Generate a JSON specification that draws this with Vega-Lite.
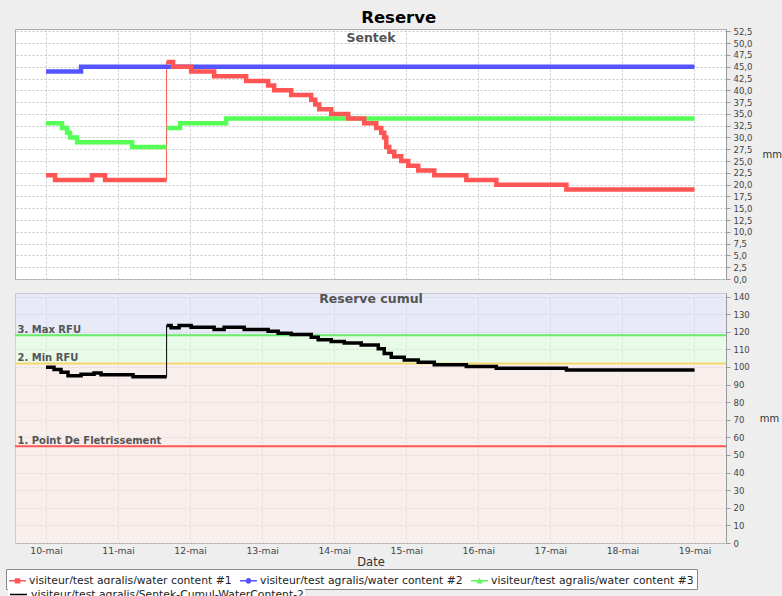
{
  "$schema": "https://vega.github.io/schema/vega-lite/v6.json",
  "background": "#eeeeee",
  "padding": {"left": 5, "top": 10, "right": 5, "bottom": 5},
  "title": {"text": "Reserve", "font": "DejaVu Sans", "fontSize": 16.5, "fontWeight": "bold", "color": "#000000", "anchor": "middle", "offset": 0, "dx": 5},
  "config": {
    "view": {"stroke": "#aaaaaa", "fill": "#ffffff"},
    "axis": {"gridColor": "#c8c8c8", "gridDash": [2, 2], "gridWidth": 1, "domainColor": "#999999", "tickColor": "#999999", "labelFont": "DejaVu Sans", "labelColor": "#444444", "titleFont": "DejaVu Sans", "titleFontWeight": "normal", "titleColor": "#333333"},
    "legend": {"orient": "none", "direction": "horizontal", "title": null, "labelFont": "DejaVu Sans", "labelFontSize": 10.8, "labelColor": "#222222", "symbolSize": 289, "labelOffset": 3, "columnPadding": 8, "rowPadding": 1, "labelLimit": 400}
  },
  "datasets": {
    "sentek": [
      {"t": "2013-05-10T00:00", "v": 33, "s": "visiteur/test agralis/water content #3", "seg": "a"},
      {"t": "2013-05-10T05:20", "v": 32, "s": "visiteur/test agralis/water content #3", "seg": "a"},
      {"t": "2013-05-10T07:00", "v": 31, "s": "visiteur/test agralis/water content #3", "seg": "a"},
      {"t": "2013-05-10T08:00", "v": 30, "s": "visiteur/test agralis/water content #3", "seg": "a"},
      {"t": "2013-05-10T10:20", "v": 29, "s": "visiteur/test agralis/water content #3", "seg": "a"},
      {"t": "2013-05-11T04:40", "v": 28, "s": "visiteur/test agralis/water content #3", "seg": "a"},
      {"t": "2013-05-11T16:10", "v": 28, "s": "visiteur/test agralis/water content #3", "seg": "a"},
      {"t": "2013-05-11T16:10", "v": 32, "s": "visiteur/test agralis/water content #3", "seg": "b"},
      {"t": "2013-05-11T20:40", "v": 33, "s": "visiteur/test agralis/water content #3", "seg": "b"},
      {"t": "2013-05-12T12:00", "v": 34, "s": "visiteur/test agralis/water content #3", "seg": "b"},
      {"t": "2013-05-19T00:00", "v": 34, "s": "visiteur/test agralis/water content #3", "seg": "b"},
      {"t": "2013-05-10T00:00", "v": 44, "s": "visiteur/test agralis/water content #2", "seg": "a"},
      {"t": "2013-05-10T11:40", "v": 45, "s": "visiteur/test agralis/water content #2", "seg": "a"},
      {"t": "2013-05-19T00:00", "v": 45, "s": "visiteur/test agralis/water content #2", "seg": "a"},
      {"t": "2013-05-10T00:00", "v": 22, "s": "visiteur/test agralis/water content #1", "seg": "a"},
      {"t": "2013-05-10T03:00", "v": 21, "s": "visiteur/test agralis/water content #1", "seg": "a"},
      {"t": "2013-05-10T15:20", "v": 22, "s": "visiteur/test agralis/water content #1", "seg": "a"},
      {"t": "2013-05-10T19:40", "v": 21, "s": "visiteur/test agralis/water content #1", "seg": "a"},
      {"t": "2013-05-11T16:10", "v": 21, "s": "visiteur/test agralis/water content #1", "seg": "a"},
      {"t": "2013-05-11T16:10", "v": 46, "s": "visiteur/test agralis/water content #1", "seg": "b"},
      {"t": "2013-05-11T18:20", "v": 45, "s": "visiteur/test agralis/water content #1", "seg": "b"},
      {"t": "2013-05-12T00:20", "v": 44, "s": "visiteur/test agralis/water content #1", "seg": "b"},
      {"t": "2013-05-12T08:00", "v": 43, "s": "visiteur/test agralis/water content #1", "seg": "b"},
      {"t": "2013-05-12T18:40", "v": 42, "s": "visiteur/test agralis/water content #1", "seg": "b"},
      {"t": "2013-05-13T02:00", "v": 41, "s": "visiteur/test agralis/water content #1", "seg": "b"},
      {"t": "2013-05-13T04:00", "v": 40, "s": "visiteur/test agralis/water content #1", "seg": "b"},
      {"t": "2013-05-13T09:40", "v": 39, "s": "visiteur/test agralis/water content #1", "seg": "b"},
      {"t": "2013-05-13T16:20", "v": 38, "s": "visiteur/test agralis/water content #1", "seg": "b"},
      {"t": "2013-05-13T17:40", "v": 37, "s": "visiteur/test agralis/water content #1", "seg": "b"},
      {"t": "2013-05-13T19:00", "v": 36, "s": "visiteur/test agralis/water content #1", "seg": "b"},
      {"t": "2013-05-13T23:00", "v": 35, "s": "visiteur/test agralis/water content #1", "seg": "b"},
      {"t": "2013-05-14T04:40", "v": 34, "s": "visiteur/test agralis/water content #1", "seg": "b"},
      {"t": "2013-05-14T10:00", "v": 33, "s": "visiteur/test agralis/water content #1", "seg": "b"},
      {"t": "2013-05-14T14:00", "v": 32, "s": "visiteur/test agralis/water content #1", "seg": "b"},
      {"t": "2013-05-14T15:40", "v": 31, "s": "visiteur/test agralis/water content #1", "seg": "b"},
      {"t": "2013-05-14T16:40", "v": 30, "s": "visiteur/test agralis/water content #1", "seg": "b"},
      {"t": "2013-05-14T17:20", "v": 28, "s": "visiteur/test agralis/water content #1", "seg": "b"},
      {"t": "2013-05-14T18:20", "v": 27, "s": "visiteur/test agralis/water content #1", "seg": "b"},
      {"t": "2013-05-14T20:00", "v": 26, "s": "visiteur/test agralis/water content #1", "seg": "b"},
      {"t": "2013-05-14T22:20", "v": 25, "s": "visiteur/test agralis/water content #1", "seg": "b"},
      {"t": "2013-05-15T00:40", "v": 24, "s": "visiteur/test agralis/water content #1", "seg": "b"},
      {"t": "2013-05-15T04:00", "v": 23, "s": "visiteur/test agralis/water content #1", "seg": "b"},
      {"t": "2013-05-15T09:20", "v": 22, "s": "visiteur/test agralis/water content #1", "seg": "b"},
      {"t": "2013-05-15T20:00", "v": 21, "s": "visiteur/test agralis/water content #1", "seg": "b"},
      {"t": "2013-05-16T06:00", "v": 20, "s": "visiteur/test agralis/water content #1", "seg": "b"},
      {"t": "2013-05-17T05:20", "v": 19, "s": "visiteur/test agralis/water content #1", "seg": "b"},
      {"t": "2013-05-19T00:00", "v": 19, "s": "visiteur/test agralis/water content #1", "seg": "b"}
    ],
    "cumul": [
      {"t": "2013-05-10T00:00", "v": 99.8, "s": "visiteur/test agralis/Sentek-Cumul-WaterContent-2", "seg": "a"},
      {"t": "2013-05-10T02:40", "v": 98.5, "s": "visiteur/test agralis/Sentek-Cumul-WaterContent-2", "seg": "a"},
      {"t": "2013-05-10T05:00", "v": 97, "s": "visiteur/test agralis/Sentek-Cumul-WaterContent-2", "seg": "a"},
      {"t": "2013-05-10T07:20", "v": 95, "s": "visiteur/test agralis/Sentek-Cumul-WaterContent-2", "seg": "a"},
      {"t": "2013-05-10T11:40", "v": 95.8, "s": "visiteur/test agralis/Sentek-Cumul-WaterContent-2", "seg": "a"},
      {"t": "2013-05-10T16:00", "v": 96.5, "s": "visiteur/test agralis/Sentek-Cumul-WaterContent-2", "seg": "a"},
      {"t": "2013-05-10T18:20", "v": 95.6, "s": "visiteur/test agralis/Sentek-Cumul-WaterContent-2", "seg": "a"},
      {"t": "2013-05-11T05:00", "v": 94.5, "s": "visiteur/test agralis/Sentek-Cumul-WaterContent-2", "seg": "a"},
      {"t": "2013-05-11T16:10", "v": 94.5, "s": "visiteur/test agralis/Sentek-Cumul-WaterContent-2", "seg": "a"},
      {"t": "2013-05-11T16:10", "v": 123.5, "s": "visiteur/test agralis/Sentek-Cumul-WaterContent-2", "seg": "b"},
      {"t": "2013-05-11T17:40", "v": 122.2, "s": "visiteur/test agralis/Sentek-Cumul-WaterContent-2", "seg": "b"},
      {"t": "2013-05-11T20:20", "v": 123.5, "s": "visiteur/test agralis/Sentek-Cumul-WaterContent-2", "seg": "b"},
      {"t": "2013-05-12T00:20", "v": 122.6, "s": "visiteur/test agralis/Sentek-Cumul-WaterContent-2", "seg": "b"},
      {"t": "2013-05-12T08:00", "v": 121.2, "s": "visiteur/test agralis/Sentek-Cumul-WaterContent-2", "seg": "b"},
      {"t": "2013-05-12T11:20", "v": 122.6, "s": "visiteur/test agralis/Sentek-Cumul-WaterContent-2", "seg": "b"},
      {"t": "2013-05-12T18:00", "v": 121.2, "s": "visiteur/test agralis/Sentek-Cumul-WaterContent-2", "seg": "b"},
      {"t": "2013-05-13T02:00", "v": 120.3, "s": "visiteur/test agralis/Sentek-Cumul-WaterContent-2", "seg": "b"},
      {"t": "2013-05-13T05:20", "v": 119.1, "s": "visiteur/test agralis/Sentek-Cumul-WaterContent-2", "seg": "b"},
      {"t": "2013-05-13T09:40", "v": 118.4, "s": "visiteur/test agralis/Sentek-Cumul-WaterContent-2", "seg": "b"},
      {"t": "2013-05-13T16:20", "v": 116.9, "s": "visiteur/test agralis/Sentek-Cumul-WaterContent-2", "seg": "b"},
      {"t": "2013-05-13T18:40", "v": 115.4, "s": "visiteur/test agralis/Sentek-Cumul-WaterContent-2", "seg": "b"},
      {"t": "2013-05-13T23:00", "v": 114.4, "s": "visiteur/test agralis/Sentek-Cumul-WaterContent-2", "seg": "b"},
      {"t": "2013-05-14T03:20", "v": 113.6, "s": "visiteur/test agralis/Sentek-Cumul-WaterContent-2", "seg": "b"},
      {"t": "2013-05-14T09:00", "v": 112.5, "s": "visiteur/test agralis/Sentek-Cumul-WaterContent-2", "seg": "b"},
      {"t": "2013-05-14T14:40", "v": 110.4, "s": "visiteur/test agralis/Sentek-Cumul-WaterContent-2", "seg": "b"},
      {"t": "2013-05-14T16:40", "v": 107.6, "s": "visiteur/test agralis/Sentek-Cumul-WaterContent-2", "seg": "b"},
      {"t": "2013-05-14T19:00", "v": 105.5, "s": "visiteur/test agralis/Sentek-Cumul-WaterContent-2", "seg": "b"},
      {"t": "2013-05-14T23:20", "v": 104, "s": "visiteur/test agralis/Sentek-Cumul-WaterContent-2", "seg": "b"},
      {"t": "2013-05-15T04:00", "v": 102.6, "s": "visiteur/test agralis/Sentek-Cumul-WaterContent-2", "seg": "b"},
      {"t": "2013-05-15T09:20", "v": 101.3, "s": "visiteur/test agralis/Sentek-Cumul-WaterContent-2", "seg": "b"},
      {"t": "2013-05-15T20:00", "v": 100.2, "s": "visiteur/test agralis/Sentek-Cumul-WaterContent-2", "seg": "b"},
      {"t": "2013-05-16T06:00", "v": 99.2, "s": "visiteur/test agralis/Sentek-Cumul-WaterContent-2", "seg": "b"},
      {"t": "2013-05-17T05:20", "v": 98.3, "s": "visiteur/test agralis/Sentek-Cumul-WaterContent-2", "seg": "b"},
      {"t": "2013-05-19T00:00", "v": 98.3, "s": "visiteur/test agralis/Sentek-Cumul-WaterContent-2", "seg": "b"}
    ],
    "zones": [
      {"zone": "haut", "lo": 118, "hi": 142},
      {"zone": "rfu", "lo": 102, "hi": 118},
      {"zone": "bas", "lo": 0, "hi": 102}
    ],
    "seuils": [
      {"name": "1. Point De Fletrissement", "v": 55},
      {"name": "2. Min RFU", "v": 102},
      {"name": "3. Max RFU", "v": 118}
    ]
  },
  "spacing": 8,
  "resolve": {"scale": {"y": "independent", "x": "shared"}, "axis": {"x": "independent", "y": "independent"}},
  "vconcat": [
    {
      "width": 711,
      "height": 250,
      "data": {"name": "sentek"},
      "encoding": {
        "x": {"field": "t", "type": "temporal", "scale": {"domain": [{"year": 2013, "month": 5, "date": 9, "hours": 13, "minutes": 40}, {"year": 2013, "month": 5, "date": 19, "hours": 10, "minutes": 30}]},
          "axis": {"orient": "top", "labels": false, "ticks": false, "domain": false, "grid": true,
            "title": "Sentek", "titleY": 12, "titleBaseline": "alphabetic", "titleAlign": "center", "titlePadding": 0, "titleFont": "DejaVu Sans", "titleFontSize": 12.5, "titleFontWeight": "bold", "titleColor": "#555555",
            "values": [{"year": 2013, "month": 5, "date": 10}, {"year": 2013, "month": 5, "date": 11}, {"year": 2013, "month": 5, "date": 12}, {"year": 2013, "month": 5, "date": 13}, {"year": 2013, "month": 5, "date": 14}, {"year": 2013, "month": 5, "date": 15}, {"year": 2013, "month": 5, "date": 16}, {"year": 2013, "month": 5, "date": 17}, {"year": 2013, "month": 5, "date": 18}, {"year": 2013, "month": 5, "date": 19}]}},
        "y": {"field": "v", "type": "quantitative", "scale": {"domain": [0, 53], "nice": false, "zero": false},
          "axis": {"orient": "right", "title": "mm", "titleAngle": 0, "titleAlign": "left", "titleBaseline": "middle", "titlePadding": 10, "titleFontSize": 10, "labelFontSize": 8.5, "tickSize": 4, "labelPadding": 3, "grid": true,
            "values": [0, 2.5, 5, 7.5, 10, 12.5, 15, 17.5, 20, 22.5, 25, 27.5, 30, 32.5, 35, 37.5, 40, 42.5, 45, 47.5, 50, 52.5],
            "labelExpr": "replace(format(datum.value, '.1f'), '.', ',')"}},
        "color": {"field": "s", "type": "nominal",
          "scale": {"domain": ["visiteur/test agralis/water content #1", "visiteur/test agralis/water content #2", "visiteur/test agralis/water content #3"], "range": ["#ff5555", "#5555ff", "#55ff55"]},
          "legend": {"orient": "none", "legendX": -9, "legendY": 540, "direction": "horizontal", "padding": 3, "fillColor": "#ffffff", "strokeColor": "#888888",
            "encode": {"symbols": {"update": {
              "shape": {"signal": "['M-1,-0.09H1V0.09H-1ZM-0.32,-0.32H0.32V0.32H-0.32Z', 'M-1,-0.09H1V0.09H-1ZM-0.34,0A0.34,0.34,0,1,1,0.34,0A0.34,0.34,0,1,1,-0.34,0Z', 'M-1,-0.09H1V0.09H-1ZM0,-0.36L0.36,0.3H-0.36Z'][datum.index]"},
              "fill": {"scale": "color", "field": "value"},
              "strokeWidth": {"value": 0},
              "opacity": {"value": 1}}}}}}
      },
      "layer": [
        {"mark": {"type": "line", "interpolate": "step-after", "strokeWidth": 1}},
        {"mark": {"type": "line", "interpolate": "step-after", "strokeWidth": 4.5, "strokeJoin": "miter"}, "encoding": {"detail": {"field": "seg"}}}
      ]
    },
    {
      "width": 711,
      "height": 250,
      "resolve": {"axis": {"y": "independent"}, "scale": {"y": "shared"}},
      "encoding": {
        "x": {"field": "t", "type": "temporal", "scale": {"domain": [{"year": 2013, "month": 5, "date": 9, "hours": 13, "minutes": 40}, {"year": 2013, "month": 5, "date": 19, "hours": 10, "minutes": 30}]},
          "axis": {"orient": "bottom", "title": "Date", "titleFontSize": 11.5, "titlePadding": 1, "labelFontSize": 9.3, "ticks": false, "labelPadding": 3, "domain": false, "grid": true,
            "values": [{"year": 2013, "month": 5, "date": 10}, {"year": 2013, "month": 5, "date": 11}, {"year": 2013, "month": 5, "date": 12}, {"year": 2013, "month": 5, "date": 13}, {"year": 2013, "month": 5, "date": 14}, {"year": 2013, "month": 5, "date": 15}, {"year": 2013, "month": 5, "date": 16}, {"year": 2013, "month": 5, "date": 17}, {"year": 2013, "month": 5, "date": 18}, {"year": 2013, "month": 5, "date": 19}],
            "labelExpr": "timeFormat(datum.value, '%d') + '-mai'"}}
      },
      "layer": [
        {"data": {"name": "zones"}, "mark": {"type": "rect", "opacity": 0.6},
          "encoding": {"x": null, "y": {"field": "lo", "type": "quantitative", "scale": {"domain": [0, 142], "nice": false, "zero": false}, "axis": null}, "y2": {"field": "hi"},
            "fill": {"field": "zone", "type": "nominal", "scale": {"domain": ["haut", "rfu", "bas"], "range": ["#d9dcf3", "#d9f7d9", "#f3e3df"]}, "legend": null}}},
        {"data": {"name": "seuils"}, "mark": {"type": "rule", "strokeWidth": 2},
          "encoding": {"x": null,
            "y": {"field": "v", "type": "quantitative", "scale": {"domain": [0, 142], "nice": false, "zero": false},
              "axis": {"orient": "left", "zindex": 1, "values": [55, 102, 118], "labelExpr": "datum.value == 118 ? '3. Max RFU' : datum.value == 102 ? '2. Min RFU' : '1. Point De Fletrissement'",
                "ticks": false, "tickSize": 0, "domain": false, "grid": false, "labelAlign": "left", "labelBaseline": "alphabetic", "labelPadding": -2, "labelOffset": -3,
                "labelFont": "DejaVu Sans", "labelFontSize": 10, "labelFontWeight": "bold", "labelColor": "#555555", "labelOverlap": false, "labelFlush": false, "labelBound": false, "labelLimit": 300,
                "title": "Reserve cumul", "titleAngle": 0, "titleAlign": "center", "titleBaseline": "alphabetic", "titleX": 355.5, "titleY": 9.5,
                "titleFont": "DejaVu Sans", "titleFontSize": 12.5, "titleFontWeight": "bold", "titleColor": "#555555"}},
            "stroke": {"field": "name", "type": "nominal", "scale": {"domain": ["1. Point De Fletrissement", "2. Min RFU", "3. Max RFU"], "range": ["#ff5555", "#f5d76e", "#66ee66"]}, "legend": null}}},
        {"data": {"name": "cumul"}, "mark": {"type": "line", "interpolate": "step-after", "strokeWidth": 1, "color": "#000000"},
          "encoding": {"y": {"field": "v", "type": "quantitative", "scale": {"domain": [0, 142], "nice": false, "zero": false}, "axis": null}}},
        {"data": {"name": "cumul"}, "mark": {"type": "line", "interpolate": "step-after", "strokeWidth": 3.5, "strokeJoin": "miter", "color": "#000000"},
          "encoding": {"y": {"field": "v", "type": "quantitative", "scale": {"domain": [0, 142], "nice": false, "zero": false},
            "axis": {"orient": "right", "title": "mm", "titleAngle": 0, "titleAlign": "left", "titleBaseline": "middle", "titlePadding": 10, "titleFontSize": 10, "labelFontSize": 8.5, "tickSize": 4, "labelPadding": 3, "grid": true,
              "values": [0, 10, 20, 30, 40, 50, 60, 70, 80, 90, 100, 110, 120, 130, 140]}},
            "detail": {"field": "seg"},
            "strokeDash": {"field": "s", "type": "nominal", "scale": {"range": [[1, 0]]},
              "legend": {"orient": "none", "legendX": -7, "legendY": 555, "direction": "horizontal", "padding": 1, "fillColor": "#ffffff", "strokeColor": null,
                "encode": {"symbols": {"update": {
                  "shape": {"value": "M-1,-0.09H1V0.09H-1ZM0,-0.38L0.38,0L0,0.38L-0.38,0Z"},
                  "fill": {"value": "#000000"},
                  "strokeWidth": {"value": 0},
                  "opacity": {"value": 1}}}}}}}}
      ]
    }
  ]
}
